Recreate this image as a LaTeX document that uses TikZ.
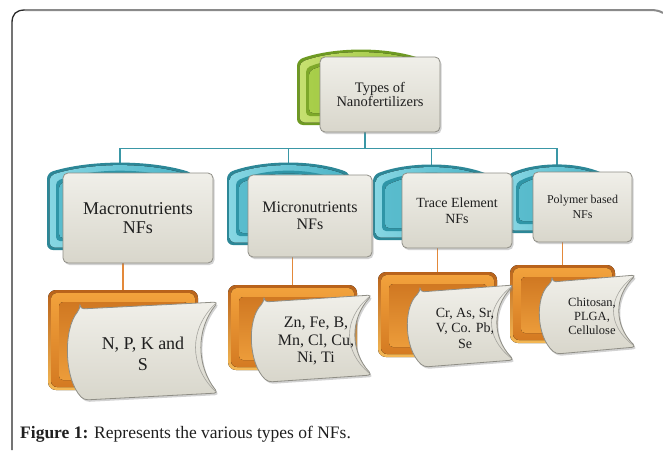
\documentclass[tikz,border=0pt]{standalone}
\usepackage{fontspec}
\setmainfont{Liberation Serif}
\usetikzlibrary{shadows,calc}
\pgfdeclarelayer{bg}
\pgfsetlayers{bg,main}

\definecolor{txtc}{HTML}{1F1F1F}
\definecolor{frameL}{HTML}{2A2A2A}
\definecolor{frameT}{HTML}{8A8A8A}
\definecolor{tealline}{HTML}{3A97A6}
\definecolor{orline}{HTML}{E3893A}
\definecolor{faceT}{HTML}{F0EFE9}
\definecolor{faceB}{HTML}{D8D6CB}
\definecolor{faceEdge}{HTML}{8F8E86}
% blue
\definecolor{bluRim}{HTML}{2C8797}
\definecolor{bluL}{HTML}{86D6E3}
\definecolor{bluR}{HTML}{4AB3C6}
\definecolor{bluIn}{HTML}{2F95A7}
\definecolor{bluIn2}{HTML}{5ABCCD}
% green
\definecolor{grnRim}{HTML}{6E9A22}
\definecolor{grnL}{HTML}{C6E070}
\definecolor{grnR}{HTML}{98C23C}
\definecolor{grnIn}{HTML}{7EA82A}
\definecolor{grnIn2}{HTML}{A8CE4A}
% orange
\definecolor{orRimT}{HTML}{B8621A}
\definecolor{orRimB}{HTML}{F4B855}
\definecolor{orBandT}{HTML}{F2A23C}
\definecolor{orBandB}{HTML}{D47A22}
\definecolor{orInT}{HTML}{D07822}
\definecolor{orInB}{HTML}{EC9C3A}

\tikzset{
  slot/.style={inner sep=0pt,outer sep=0pt},
  facebox/.style={rounded corners=5pt, draw=faceEdge, line width=0.8pt,
    top color=faceT, bottom color=faceB,
    drop shadow={opacity=0.35,shadow xshift=1.5pt,shadow yshift=-2pt},
    text=txtc, align=center, inner sep=2pt},
  facepath/.style={rounded corners=4pt, draw=faceEdge, line width=0.8pt,
    top color=faceT, bottom color=faceB,
    drop shadow={opacity=0.35,shadow xshift=1.5pt,shadow yshift=-2pt}},
  facetext/.style={text=txtc, align=center, inner sep=0pt},
  tealconn/.style={draw=tealline, line width=1.7pt},
  orconn/.style={draw=orline, line width=1.6pt},
}

% slot node: name x0 y0 x1 y1
\newcommand\mkslot[5]{%
  \pgfmathsetmacro\slotw{#4-#2}\pgfmathsetmacro\sloth{#5-#3}%
  \node[slot, minimum width=\slotw pt, minimum height=\sloth pt] (#1) at ({(#2+#4)/2},{(#3+#5)/2}) {};}

% face node: name x0 y0 x1 y1 font text
\newcommand\mkface[7]{%
  \pgfmathsetmacro\slotw{#4-#2}\pgfmathsetmacro\sloth{#5-#3}%
  \node[facebox, minimum width=\slotw pt, minimum height=\sloth pt, font=#6] (#1) at ({(#2+#4)/2},{(#3+#5)/2}) {#7};}

% arc-topped path x0 y0 x1 y1
\newcommand\arcpath[4]{({#1},{(#2)+10}) .. controls ({(#1)+0.3*((#3)-(#1))},{(#2)-3.3}) and ({(#3)-0.3*((#3)-(#1))},{(#2)-3.3}) .. ({#3},{(#2)+10}) -- ({#3},{#4}) -- ({#1},{#4}) -- cycle}

% arc back: name x0 y0 x1 y1 prefix(blu/grn)
\newcommand\arcback[6]{%
  \mkslot{#1}{#2}{#3}{#4}{#5}%
  \fill[rounded corners=6pt, #6Rim] \arcpath{#2}{#3}{#4}{#5};
  \fill[rounded corners=5pt, left color=#6L, right color=#6R] \arcpath{#2+2.5}{#3+2.5}{#4-2.5}{#5-2.5};
  \fill[rounded corners=4pt, #6In] \arcpath{#2+9}{#3+8}{#4-9}{#5-9};
  \fill[rounded corners=4pt, left color=#6In2, right color=#6R] \arcpath{#2+12}{#3+11}{#4-12}{#5-12};
}

% box back (orange): name x0 y0 x1 y1
\newcommand\boxback[5]{%
  \mkslot{#1}{#2}{#3}{#4}{#5}%
  \fill[rounded corners=8pt, top color=orRimT, bottom color=orRimB] (#2,#3) rectangle (#4,#5);
  \fill[rounded corners=6pt, top color=orBandT, bottom color=orBandB] ({#2+3},{#3+3}) rectangle ({#4-3},{#5-3});
  \fill[rounded corners=4pt, top color=orInT, bottom color=orInB] ({#2+11},{#3+12}) rectangle ({#4-10},{#5-10});
}

% scroll face: x0 y0 x1 y1
\newcommand\scrollface[4]{%
  \pgfmathsetmacro\scrh{#4-#2}%
  \path[facepath] ({#1+12},{#2+7}) -- (#3,#2) .. controls ({#3-22},{#2+0.3*\scrh}) and ({#3-22},{#4-0.3*\scrh}) .. (#3,#4) -- ({#1+16},{#4+7}) .. controls ({#1-4},{#4-0.15*\scrh}) and ({#1-5},{#2+0.3*\scrh}) .. ({#1+12},{#2+7}) -- cycle;
  \draw[faceEdge!80, line width=0.6pt] ({#3-3},{#2+2}) .. controls ({#3-29},{#2+0.3*\scrh}) and ({#3-29},{#4-0.3*\scrh}) .. ({#3-3},{#4-2});
}

\begin{document}
\begin{tikzpicture}[x=1pt,y=-1pt]
\useasboundingbox (0,0) rectangle (663,450);

% ---- top level
\arcback{G0}{297}{50}{425}{125}{grn}
\mkface{F0}{320}{57}{440}{132}{\fontsize{14.5}{13.5}\selectfont}{Types of\\Nanofertilizers}

% ---- second level
\arcback{B1}{47}{163}{193}{250}{blu}
\arcback{B2}{227}{163}{350}{245}{blu}
\arcback{B3}{373}{165}{490}{240}{blu}
\arcback{B4}{507}{165}{607}{233}{blu}
\mkface{F1}{63}{173}{213}{263}{\fontsize{18}{18.5}\selectfont}{Macronutrients\\NFs}
\mkface{F2}{248}{175}{372}{257}{\fontsize{16}{16.5}\selectfont}{Micronutrients\\NFs}
\mkface{F3}{402}{173}{512}{248}{\fontsize{14}{16}\selectfont}{Trace Element\\NFs}
\mkface{F4}{533}{172}{632}{242}{\fontsize{12}{15.5}\selectfont}{Polymer based\\NFs}

% ---- third level
\boxback{O1}{48}{290}{198}{390}
\boxback{O2}{228}{285}{357}{370}
\boxback{O3}{378}{272}{497}{357}
\boxback{O4}{510}{265}{615}{343}
\scrollface{68}{302}{218}{393}
\scrollface{252}{295}{372}{375}
\scrollface{408}{285}{514}{360}
\scrollface{540}{275}{636}{347}
\node[facetext, font=\fontsize{18}{21}\selectfont] (S1) at (143,354) {N, P, K and\\S};
\node[facetext, font=\fontsize{16}{17.5}\selectfont] (S2) at (316,341) {Zn, Fe, B,\\Mn, Cl, Cu,\\Ni, Ti};
\node[facetext, font=\fontsize{14}{15.5}\selectfont] (S3) at (465,328) {Cr, As, Sr,\\V, Co. Pb,\\Se};
\node[facetext, font=\fontsize{12.5}{14}\selectfont] (S4) at (592,316) {Chitosan,\\PLGA,\\Cellulose};

% ---- caption
\node[anchor=base west, inner sep=0pt, text=txtc, font=\fontsize{17.5}{20}\selectfont] (cap) at (20,438) {\textbf{Figure 1:} Represents the various types of NFs.};

% ---- frame
\draw[frameL, line width=1.3pt] (12,450) -- (12,23) .. controls (12,14) and (16,10) .. (25,10);
\draw[frameT, line width=2pt] (25,10) -- (650,10) .. controls (656,10) and (660,11) .. (663,13);

% ---- background and connectors
\begin{pgfonlayer}{bg}
\fill[white] (0,0) rectangle (663,450);
\draw[tealconn] ([xshift=-15pt]F0.south) -- ++(0,16) coordinate (bus);
\draw[tealconn] (B1.north |- bus) -- (B4.north |- bus);
\foreach \b in {B1,B2,B3,B4} \draw[tealconn] (\b.north |- bus) -- (\b.north);
\foreach \o/\f in {O1/F1,O2/F2,O3/F3,O4/F4} \draw[orconn] (\o.north |- \f.south) -- (\o.north);
\end{pgfonlayer}
\end{tikzpicture}
\end{document}
